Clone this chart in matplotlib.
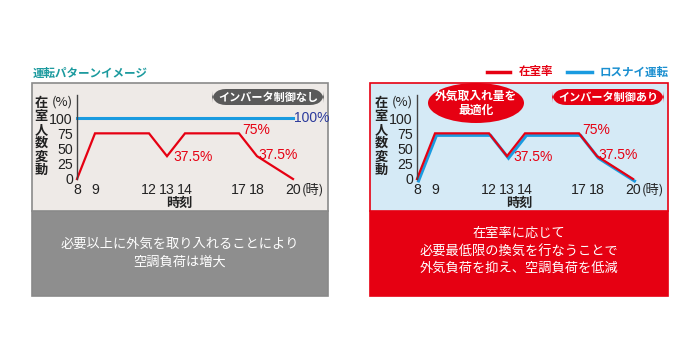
import matplotlib
matplotlib.use("Agg")
import matplotlib.pyplot as plt
from matplotlib.patches import Rectangle, FancyBboxPatch, Ellipse
import matplotlib.transforms as mtransforms

plt.rcParams['font.family'] = ['Noto Sans CJK JP', 'DejaVu Sans']
NUM_FONT = ['Liberation Sans', 'Noto Sans CJK JP']

# ------------------ DATA ------------------
hours = [8, 9, 12, 13, 14, 17, 18, 20]
occupancy = [0, 75, 75, 37.5, 75, 75, 37.5, 0]
vent_fixed = [100, 100, 100, 100, 100, 100, 100, 100]
vent_inverter = [0, 75, 75, 37.5, 75, 75, 37.5, 0]
yticks = [0, 25, 50, 75, 100]

RED = "#e60012"
BLUE = "#1a9be0"
NAVY = "#2b3a9c"
W, H = 700, 360


def fx(x):
    return x / W


def fy(y):
    return 1 - y / H


fig = plt.figure(figsize=(7, 3.6), dpi=100)
fig.patch.set_facecolor("white")


def panel(x0, x1, top_col, bot_col, edge):
    # upper (chart) area and lower (comment) area
    fig.patches.append(Rectangle((fx(x0), fy(296)), fx(x1 - x0), (296 - 211) / H,
                                 transform=fig.transFigure, fc=bot_col, ec=edge, lw=1.2, zorder=-2))
    fig.patches.append(Rectangle((fx(x0), fy(211)), fx(x1 - x0), (211 - 83) / H,
                                 transform=fig.transFigure, fc=top_col, ec=edge, lw=1.2, zorder=-2))


panel(32, 328, "#eeeae7", "#8e8e8e", "#8a8a8a")
panel(370, 668, "#d5eaf6", RED, RED)


def chart(x_left, blue_vals, blue_offset):
    ax = fig.add_axes([fx(x_left), fy(179), 216 / W, 84 / H])
    ax.set_zorder(1)
    ax.set_xlim(8, 20)
    ax.set_ylim(0, 138)
    ax.patch.set_alpha(0)
    for s in ["top", "right", "bottom"]:
        ax.spines[s].set_visible(False)
    ax.spines["left"].set_color("#444444")
    ax.spines["left"].set_linewidth(1.0)
    ax.set_yticks(yticks)
    ax.set_xticks(hours)
    ax.tick_params(length=0, labelsize=10.2, colors="#222222", pad=3)
    for lab in ax.get_xticklabels() + ax.get_yticklabels():
        lab.set_family(NUM_FONT)
    tr = ax.transData
    if blue_offset:
        tr = ax.transData + mtransforms.ScaledTranslation(1.5 / 100, -2 / 100, fig.dpi_scale_trans)
    ax.plot(hours, blue_vals, color=BLUE, lw=2.2, clip_on=False, transform=tr, solid_joinstyle="miter")
    ax.plot(hours, occupancy, color=RED, lw=1.6, clip_on=False, solid_joinstyle="miter")
    for x, y, s in [(13.35, 36, "37.5%"), (17.2, 80, "75%"), (18.1, 39, "37.5%")]:
        ax.text(x, y, s, color=RED, fontsize=10, family=NUM_FONT, va="center")
    ax.text(20.5, -18, "(時)", fontsize=9.5, color="#222222", va="center")
    ax.text(7.17, 126, "(%)", fontsize=9.5, color="#222222", va="center", ha="center")
    ax.text(13.67, -39, "時刻", fontsize=9.5, fontweight="bold", color="#222222", ha="center", va="center")
    ax.text(6.0, 70, "在\n室\n人\n数\n変\n動", fontsize=9.5, fontweight="bold", color="#222222",
            ha="center", va="center", linespacing=0.95)
    return ax


ax1 = chart(77, vent_fixed, False)
ax1.text(20.05, 100, "100%", color=NAVY, fontsize=10, family=NUM_FONT, va="center")
ax2 = chart(417, vent_inverter, True)

# title and legend
fig.text(fx(33), fy(73), "運転パターンイメージ", color="#1b9a9e", fontsize=8.3,
         fontweight="bold", va="center")
fig.add_artist(plt.Line2D([fx(487), fx(510)], [fy(72), fy(72)], color=RED, lw=2.5))
fig.text(fx(519), fy(72), "在室率", color=RED, fontsize=8.3, fontweight="bold", va="center")
fig.add_artist(plt.Line2D([fx(567), fx(592)], [fy(72), fy(72)], color=BLUE, lw=2.5))
fig.text(fx(600), fy(72), "ロスナイ運転", color="#1a8fd0", fontsize=8.3, fontweight="bold", va="center")

# status labels
for x0, col, label in [(212, "#5a5a5a", "インバータ制御なし"), (552, RED, "インバータ制御あり")]:
    fig.patches.append(FancyBboxPatch((fx(x0), fy(105)), fx(112), 16 / H,
                                      boxstyle="round,pad=0,rounding_size=0.02",
                                      transform=fig.transFigure, fc=col, ec="none",
                                      mutation_aspect=W / H))
    fig.text(fx(x0 + 56), fy(97), label, color="white", fontsize=8, fontweight="bold",
             ha="center", va="center")

fig.patches.append(Ellipse((fx(476), fy(103)), fx(96), 40 / H, transform=fig.transFigure,
                           fc=RED, ec="none"))
fig.text(fx(476), fy(103), "外気取入れ量を\n最適化", color="white", fontsize=8.5,
         fontweight="bold", ha="center", va="center", linespacing=1.1)

# comments
fig.text(fx(180), fy(253), "必要以上に外気を取り入れることにより\n空調負荷は増大", color="white",
         fontsize=9.5, ha="center", va="center", linespacing=1.5)
fig.text(fx(519), fy(251), "在室率に応じて\n必要最低限の換気を行なうことで\n外気負荷を抑え、空調負荷を低減",
         color="white", fontsize=9.5, ha="center", va="center", linespacing=1.45)

fig.savefig("out.png", dpi=100)
